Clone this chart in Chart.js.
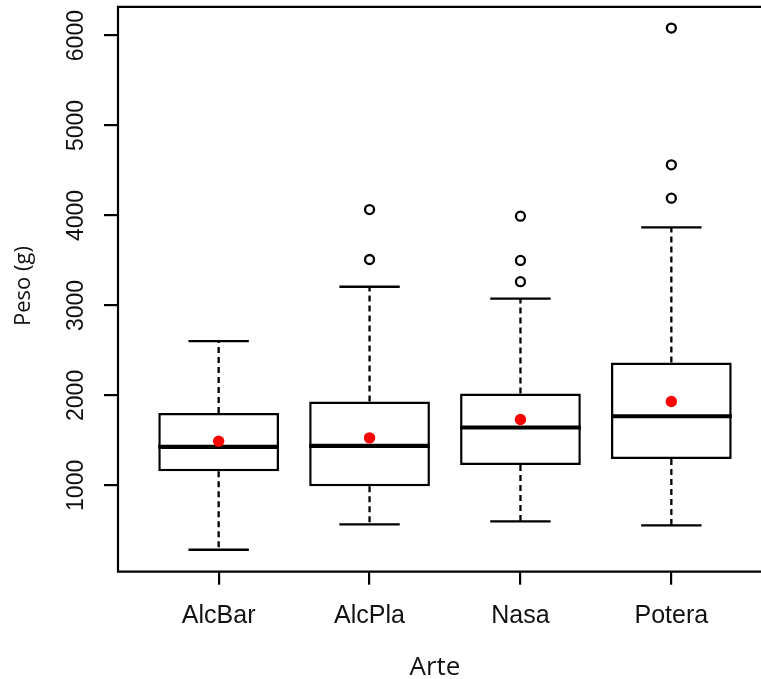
<!DOCTYPE html>
<html>
<head>
<meta charset="utf-8">
<title>Peso por Arte</title>
<script src="https://cdn.jsdelivr.net/npm/chart.js@4/dist/chart.umd.min.js"></script>
<style>
  html, body { margin: 0; padding: 0; background: #ffffff; }
  #wrap { width: 761px; height: 679px; }
</style>
</head>
<body>
<div id="wrap"><canvas id="chart" width="761" height="679"></canvas></div>
<script>
// Boxplot summary of weight (g) per fishing gear
const categories   = ['AlcBar', 'AlcPla', 'Nasa', 'Potera'];
const lowerWhisker = [284, 566, 600, 555];
const q1           = [1158, 991, 1225, 1294];
const median       = [1428, 1439, 1643, 1768];
const q3           = [1805, 1932, 2020, 2365];
const upperWhisker = [2604, 3208, 3075, 3867];
const means        = [1491, 1528, 1732, 1932];
const outliers     = [[], [3511, 4066], [3264, 3500, 3992], [4192, 4563, 6084]];
const yTickValues  = [1000, 2000, 3000, 4000, 5000, 6000];
const xTitle = 'Arte';
const yTitle = 'Peso (g)';

const positions = categories.map((_, i) => i + 1);
const boxData = positions.map((p, i) => ({ x: p, y: [q1[i], q3[i]] }));
const meanData = positions.map((p, i) => ({ x: p, y: means[i] }));
const outlierData = [];
outliers.forEach((list, i) => list.forEach(v => outlierData.push({ x: positions[i], y: v })));

const BOX_HALF = 0.4;
const CAP_HALF = 0.2;

// whiskers, caps and medians, painted right after the boxes
const boxParts = {
  id: 'boxParts',
  afterDatasetDraw(chart, args) {
    if (args.index !== 0) return;
    const { ctx } = chart;
    const xs = chart.scales.x, ys = chart.scales.y;
    ctx.save();
    ctx.strokeStyle = '#000';
    positions.forEach((p, i) => {
      const xc = xs.getPixelForValue(p);
      const yLo = ys.getPixelForValue(lowerWhisker[i]);
      const yHi = ys.getPixelForValue(upperWhisker[i]);
      const yQ1 = ys.getPixelForValue(q1[i]);
      const yQ3 = ys.getPixelForValue(q3[i]);
      // dashed whiskers
      ctx.lineWidth = 2.3;
      ctx.setLineDash([6, 4]);
      ctx.beginPath();
      ctx.moveTo(xc, yQ3); ctx.lineTo(xc, yHi);
      ctx.moveTo(xc, yQ1); ctx.lineTo(xc, yLo);
      ctx.stroke();
      // caps
      ctx.setLineDash([]);
      const c0 = xs.getPixelForValue(p - CAP_HALF), c1 = xs.getPixelForValue(p + CAP_HALF);
      ctx.beginPath();
      ctx.moveTo(c0, yHi); ctx.lineTo(c1, yHi);
      ctx.moveTo(c0, yLo); ctx.lineTo(c1, yLo);
      ctx.stroke();
      // median
      const m0 = xs.getPixelForValue(p - BOX_HALF), m1 = xs.getPixelForValue(p + BOX_HALF);
      const ym = ys.getPixelForValue(median[i]);
      ctx.lineWidth = 4.2;
      ctx.beginPath();
      ctx.moveTo(m0, ym); ctx.lineTo(m1, ym);
      ctx.stroke();
    });
    ctx.restore();
  }
};

// plot frame, tick labels and axis titles
const frameAndText = {
  id: 'frameAndText',
  afterDraw(chart) {
    const { ctx, chartArea: a } = chart;
    const xs = chart.scales.x, ys = chart.scales.y;
    ctx.save();
    ctx.strokeStyle = '#000';
    ctx.lineWidth = 2.2;
    ctx.beginPath();
    ctx.moveTo(chart.width + 5, a.top);
    ctx.lineTo(a.left, a.top);
    ctx.lineTo(a.left, a.bottom);
    ctx.lineTo(chart.width + 5, a.bottom);
    ctx.stroke();

    ctx.fillStyle = '#111';
    // y tick labels, rotated
    ctx.font = '23px "Liberation Sans", Arial, sans-serif';
    ctx.textAlign = 'center';
    ctx.textBaseline = 'alphabetic';
    yTickValues.forEach(v => {
      const y = ys.getPixelForValue(v);
      ctx.save();
      ctx.translate(83, y);
      ctx.rotate(-Math.PI / 2);
      ctx.fillText(String(v), 0, 0);
      ctx.restore();
    });
    // x tick labels
    ctx.font = '25px "Liberation Sans", Arial, sans-serif';
    positions.forEach((p, i) => {
      ctx.fillText(categories[i], xs.getPixelForValue(p), 623);
    });
    // axis titles
    ctx.font = '26px "Open Sans", sans-serif';
    ctx.fillText(xTitle, 435, 675);
    ctx.save();
    ctx.font = '22px "Open Sans", sans-serif';
    ctx.translate(30, 286);
    ctx.rotate(-Math.PI / 2);
    ctx.fillText(yTitle, 0, 0);
    ctx.restore();
    ctx.restore();
  }
};

new Chart(document.getElementById('chart'), {
  type: 'bar',
  data: {
    datasets: [
      {
        type: 'bar',
        data: boxData,
        order: 3,
        backgroundColor: '#ffffff',
        borderColor: '#000000',
        borderWidth: 2.5,
        borderSkipped: false,
        barPercentage: 0.8,
        categoryPercentage: 1.0
      },
      {
        type: 'scatter',
        data: outlierData,
        order: 2,
        pointStyle: 'circle',
        pointRadius: 4.5,
        pointBorderWidth: 2.3,
        pointBackgroundColor: '#ffffff',
        pointBorderColor: '#000000'
      },
      {
        type: 'scatter',
        data: meanData,
        order: 1,
        pointStyle: 'circle',
        pointRadius: 5.7,
        pointBorderWidth: 0,
        pointBackgroundColor: '#ff0000',
        pointBorderColor: '#ff0000'
      }
    ]
  },
  options: {
    responsive: false,
    animation: false,
    layout: { padding: { top: 6, right: 0, left: 0, bottom: 0 } },
    plugins: { legend: { display: false }, tooltip: { enabled: false }, title: { display: false } },
    scales: {
      x: {
        type: 'linear',
        position: 'bottom',
        min: 0.333,
        max: 4.549,
        offset: false,
        afterBuildTicks: s => { s.ticks = positions.map(v => ({ value: v })); },
        afterFit: s => { s.height = 679 - 571.7; },
        ticks: { display: false },
        grid: { display: true, offset: false, drawOnChartArea: false, drawTicks: true, tickLength: 13, color: '#000', lineWidth: 2.2 },
        border: { display: false }
      },
      y: {
        type: 'linear',
        position: 'left',
        min: 40,
        max: 6320,
        afterBuildTicks: s => { s.ticks = yTickValues.map(v => ({ value: v })); },
        afterFit: s => { s.width = 118; },
        ticks: { display: false },
        grid: { display: true, drawOnChartArea: false, drawTicks: true, tickLength: 14, color: '#000', lineWidth: 2.2 },
        border: { display: false }
      }
    }
  },
  plugins: [boxParts, frameAndText]
});
</script>
</body>
</html>
